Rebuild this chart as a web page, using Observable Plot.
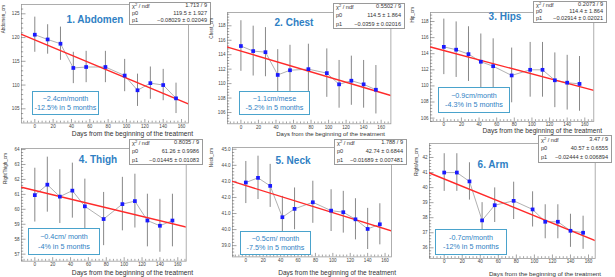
<!DOCTYPE html>
<html><head><meta charset="utf-8">
<script src="https://cdn.jsdelivr.net/npm/d3@7"></script>
<script src="https://cdn.jsdelivr.net/npm/@observablehq/plot@0.6"></script>
<style>
body{margin:0;background:#fff;}
#root{position:relative;width:615px;height:277px;overflow:hidden;font-family:"Liberation Sans",Arial,sans-serif;background:#fff;}
#root svg{position:absolute;overflow:visible;}
.t{position:absolute;white-space:nowrap;line-height:1;}
.title{color:#2f7fc4;font-weight:bold;font-family:"Liberation Sans Narrow","Liberation Sans",sans-serif;font-size:10px;transform:translate(-50%,-50%);}
.note{position:absolute;border:1.2px solid #4aa3cc;background:#fff;box-sizing:border-box;color:#2f7fc4;font-family:"Liberation Sans Narrow","Liberation Sans",sans-serif;font-size:7.2px;text-align:center;}
.stats{position:absolute;border:1px solid #9a9a9a;background:#fff;box-sizing:border-box;font-size:5.6px;color:#333;}
.xt{color:#333;transform:translate(-100%,-50%);}
.yt{color:#333;font-size:4.6px;transform-origin:0 0;transform:rotate(-90deg) translate(-100%,-50%);}
</style></head><body><div id="root"></div>
<script>
// ---------- data ----------
const days = [0, 14, 28, 42, 56, 77, 98, 112, 126, 140, 154];
const abdomen    = [120.6, 119.6, 118.7, 113.6, 113.8, 113.8, 112.0, 108.9, 110.4, 110.0, 107.2];
const abdomenErr = [3.7, 3.1, 3.5, 3.3, 3.3, 3.3, 3.4, 3.4, 3.4, 3.3, 3.2];
const chest      = [115.2, 114.5, 114.35, 111.2, 111.85, 112.0, 111.45, 109.9, 110.4, 109.9, 109.15];
const chestErr   = [3.5, 3.45, 3.4, 3.5, 3.45, 3.45, 3.35, 3.3, 3.4, 3.3, 3.35];
const hips       = [114.85, 114.5, 113.95, 113.0, 112.45, 111.3, 112.0, 112.0, 110.7, 110.4, 110.25];
const hipsErr    = [3.45, 3.45, 3.4, 3.45, 3.4, 3.4, 3.4, 3.4, 3.4, 3.4, 3.4];
const thigh      = [60.95, 61.65, 60.85, 61.25, 60.2, 59.35, 60.35, 60.55, 59.25, 58.9, 59.25];
const thighErr   = [1.8, 1.84, 1.8, 1.84, 1.82, 1.78, 1.79, 1.8, 1.76, 1.77, 1.76];
const neck       = [42.93, 43.22, 42.72, 40.77, 41.29, 41.7, 41.18, 41.08, 40.64, 40.04, 40.33];
const neckErr    = [1.31, 1.35, 1.34, 1.3, 1.3, 1.31, 1.3, 1.3, 1.28, 1.28, 1.28];
const arm        = [41.0, 41.0, 40.41, 37.82, 38.83, 39.12, 38.55, 37.73, 37.73, 37.13, 37.0];
const armErr     = [1.25, 1.25, 1.24, 1.18, 1.15, 1.24, 1.17, 1.13, 1.13, 1.1, 1.1];

const fitP0 = [119.5, 114.5, 114.4, 61.26, 42.74, 40.57];
const fitP1 = [-0.08029, -0.0359, -0.02914, -0.01445, -0.01689, -0.02444];
const statChi = ["1.713 / 9", "0.5502 / 9", "0.2073 / 9", "0.8035 / 9", "1.788 / 9", "3.47 / 9"];
const statP0 = ["119.5 ± 1.927", "114.5 ± 1.864", "114.4 ± 1.864", "61.26 ± 0.9986", "42.74 ± 0.6844", "40.57 ± 0.6555"];
const statP1 = ["−0.08029 ± 0.02049", "−0.0359 ± 0.02016", "−0.02914 ± 0.02021", "−0.01445 ± 0.01083", "−0.01689 ± 0.007481", "−0.02444 ± 0.006894"];

const titles = ["1. Abdomen", "2. Chest", "3. Hips", "4. Thigh", "5. Neck", "6. Arm"];
const yTitles = ["Abdomen_cm", "Chest_cm", "Hip_cm", "RightThigh_cm", "Neck_cm", "RightArm_cm"];
const xTitle = "Days from the beginning of the treatment";
const noteLine1 = ["−2.4cm/month", "−1.1cm/mese", "−0.9cm/month", "−0.4cm/ month", "−0.5cm/ month", "-0.7cm/month"];
const noteLine2 = ["-12.5% in 5 months", "-5.2% in 5 months", "-4.3% in 5 months", "-4% in 5 months", "-7.5% in 5 months", "-12% in 5 months"];

const xTicks = [0, 20, 40, 60, 80, 100, 120, 140, 160];
const yTicks = [
  [105, 110, 115, 120, 125],
  [106, 108, 110, 112, 114, 116, 118],
  [106, 108, 110, 112, 114, 116, 118],
  [57, 58, 59, 60, 61, 62, 63, 64],
  [39, 40, 41, 42, 43, 44, 45],
  [36, 37, 38, 39, 40, 41, 42]
];
const series = [abdomen, chest, hips, thigh, neck, arm];
const errors = [abdomenErr, chestErr, hipsErr, thighErr, neckErr, armErr];

// ---------- layout (pixels / domains) ----------
const layout = [
  {L:21, R:188, T:4, B:122.5, xd:[-14.5,167.6], yd:[102.01,126.96], yMinor:1,
   title:[95,20], xt:[193,134,6.7], yt:[3.5,5], stats:[129,211,2,25], note:[32,99,91,115]},
  {L:227.3, R:390.7, T:11.7, B:123, xd:[-15.3,171.1], yd:[104.44,119.84], yMinor:0.4,
   title:[294,23], xt:[385,134,6.0], yt:[211.5,18], stats:[333,405,3,29], note:[239,310,91,115]},
  {L:430, R:593.3, T:11.7, B:120.7, xd:[-15.1,170.2], yd:[105.58,119.12], yMinor:0.4,
   title:[505,17], xt:[602,131.3,6.6], yt:[413,7], stats:[533,607,1,23], note:[438,510,87,113]},
  {L:21, R:185.7, T:148, B:260.7, xd:[-14.9,169.4], yd:[56.53,64.07], yMinor:0.2,
   title:[98,160], xt:[193,273,6.7], yt:[6,153], stats:[129,203,139,165], note:[28,100,228,255]},
  {L:231.7, R:390.7, T:147.3, B:256.7, xd:[-15.3,167.4], yd:[38.30,45.11], yMinor:0.2,
   title:[293,161], xt:[396,273,6.5], yt:[212,148], stats:[334,407,139,165], note:[240,311,231,255]},
  {L:429.3, R:595, T:143, B:258, xd:[-16.3,167.4], yd:[35.29,42.93], yMinor:0.2,
   title:[493,165], xt:[601,274,6.2], yt:[417,148], stats:[538,612,135,163], note:[435,507,229,255]}
];

const root = document.getElementById("root");
function div(cls, css, html) {
  const d = document.createElement("div");
  d.className = cls;
  Object.assign(d.style, css);
  if (html != null) d.innerHTML = html;
  root.appendChild(d);
  return d;
}
function rangeIn(lo, hi, step) {
  const out = [];
  const s = Math.ceil(lo / step - 1e-9);
  for (let k = s; k * step <= hi + 1e-9; k++) out.push(+(k * step).toFixed(6));
  return out;
}

const mL = 20, mR = 12, mT = 4, mB = 16;
layout.forEach((c, i) => {
  const rows = days.map((d, j) => ({day: d, v: series[i][j], e: errors[i][j]}));
  const fw = c.R - c.L, fh = c.B - c.T;
  const xMinor = rangeIn(c.xd[0], c.xd[1], 4).filter(v => !xTicks.includes(v));
  const yMaj = yTicks[i];
  const yMinor = rangeIn(c.yd[0], c.yd[1], c.yMinor).filter(v => !yMaj.some(t => Math.abs(t - v) < 1e-6));
  const fit = c.xd.map(x => ({x, y: fitP0[i] + fitP1[i] * x}));
  const chart = Plot.plot({
    width: fw + mL + mR, height: fh + mT + mB,
    marginLeft: mL, marginRight: mR, marginTop: mT, marginBottom: mB,
    style: {fontFamily: "Liberation Sans, Arial, sans-serif", background: "transparent", overflow: "visible"},
    x: {domain: c.xd, label: null},
    y: {domain: c.yd, label: null},
    marks: [
      Plot.frame({stroke: "#9a9a9a", strokeWidth: 0.8}),
      Plot.tickX(xTicks, {x: d => d, insetTop: fh - 3.5, stroke: "#666", strokeWidth: 0.6}),
      Plot.tickX(xMinor, {x: d => d, insetTop: fh - 1.8, stroke: "#666", strokeWidth: 0.6}),
      Plot.tickY(yMaj, {y: d => d, insetRight: fw - 4.5, stroke: "#666", strokeWidth: 0.6}),
      Plot.tickY(yMinor, {y: d => d, insetRight: fw - 2.2, stroke: "#666", strokeWidth: 0.6}),
      Plot.axisX({ticks: xTicks, tickSize: 0, tickPadding: 1.5, fontSize: 4.6, fill: "#444", label: null}),
      Plot.axisY({ticks: yMaj, tickSize: 0, tickPadding: 2, fontSize: 4.6, fill: "#444", label: null}),
      Plot.ruleX(rows, {x: "day", y1: d => d.v - d.e, y2: d => d.v + d.e, stroke: "#7a7a7a", strokeWidth: 0.9, clip: true}),
      Plot.line(rows, {x: "day", y: "v", stroke: "#a8a8a8", strokeWidth: 0.9}),
      Plot.line(fit, {x: "x", y: "y", stroke: "#ff2a2a", strokeWidth: 1.4, clip: true}),
      Plot.dot(rows, {x: "day", y: "v", symbol: "square", fill: "#1a1aff", stroke: null, r: 2.1})
    ]
  });
  chart.style.left = (c.L - mL) + "px";
  chart.style.top = (c.T - mT) + "px";
  root.appendChild(chart);

  // title
  div("t title", {left: c.title[0] + "px", top: c.title[1] + "px"}, titles[i]);
  // x axis title
  div("t xt", {left: c.xt[0] + "px", top: c.xt[1] + "px", fontSize: c.xt[2] + "px"}, xTitle);
  // y axis title
  div("t yt", {left: c.yt[0] + "px", top: c.yt[1] + "px"}, yTitles[i]);
  // stats box
  const [sx0, sx1, sy0, sy1] = c.stats;
  const sb = div("stats", {left: sx0 + "px", top: sy0 + "px", width: (sx1 - sx0) + "px", height: (sy1 - sy0) + "px"});
  const lab = ["χ<sup style=\"font-size:4px;vertical-align:2px\">2</sup> / ndf", "p0", "p1"];
  const val = [statChi[i], statP0[i], statP1[i]];
  const h = sy1 - sy0;
  lab.forEach((l, k) => {
    const yc = h * (2 * k + 1) / 6 - 1;
    const a = document.createElement("div");
    a.className = "t"; a.innerHTML = l;
    Object.assign(a.style, {left: "2px", top: yc + "px", transform: "translateY(-50%)"});
    sb.appendChild(a);
    const b = document.createElement("div");
    b.className = "t"; b.textContent = val[k];
    Object.assign(b.style, {right: "3px", top: yc + "px", transform: "translateY(-50%)"});
    sb.appendChild(b);
  });
  // note box
  const [nx0, nx1, ny0, ny1] = c.note;
  const nb = div("note", {left: nx0 + "px", top: ny0 + "px", width: (nx1 - nx0) + "px", height: (ny1 - ny0) + "px"});
  const nh = ny1 - ny0;
  [noteLine1[i], noteLine2[i]].forEach((s, k) => {
    const t = document.createElement("div");
    t.className = "t"; t.textContent = s;
    Object.assign(t.style, {left: "50%", top: (nh * (k === 0 ? 0.33 : 0.69) - 1) + "px", transform: "translate(-50%,-50%)"});
    nb.appendChild(t);
  });
});
</script>
</body></html>
